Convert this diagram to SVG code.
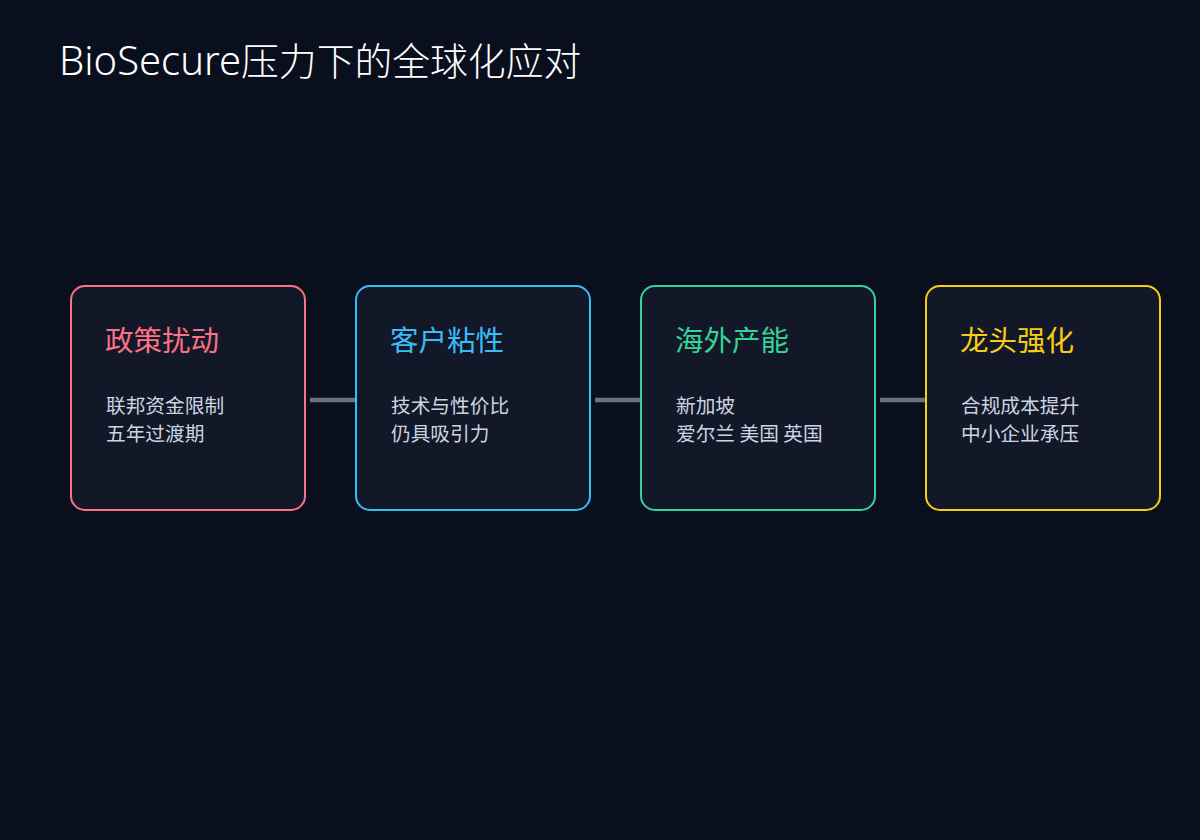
<svg xmlns="http://www.w3.org/2000/svg" width="1200" height="840" viewBox="0 0 1200 840">
<style>
.bg{fill:#0a0f1e}
.card{fill:#121827;stroke-width:2}
.title{font-family:"Noto Sans","Noto Sans CJK SC",sans-serif;fill:#ffffff;font-weight:300}
.h{font-family:"Noto Sans CJK SC",sans-serif;font-size:28.5px;font-weight:400}
.b{font-family:"Noto Sans CJK SC",sans-serif;font-size:19.7px;fill:#cbd5e1}
.conn{stroke:#64748b;stroke-width:4.5;fill:none}
</style>
<rect class="bg" x="0" y="0" width="1200" height="840"/>
<text class="title" x="59" y="75"><tspan font-size="40">BioSecure</tspan><tspan font-size="37.8">压力下的全球化应对</tspan></text>
<g id="connectors">
<line class="conn" x1="310" y1="400" x2="356" y2="400"/>
<line class="conn" x1="595" y1="400" x2="641" y2="400"/>
<line class="conn" x1="880" y1="400" x2="926" y2="400"/>
</g>
<g id="node1">
<rect class="card" x="71" y="286" width="234" height="224" rx="14" stroke="#fb7185"/>
<text class="h" x="105" y="351" fill="#fb7185">政策扰动</text>
<text class="b" x="106" y="413">联邦资金限制</text>
<text class="b" x="106" y="441">五年过渡期</text>
</g>
<g id="node2">
<rect class="card" x="356" y="286" width="234" height="224" rx="14" stroke="#38bdf8"/>
<text class="h" x="390" y="351" fill="#38bdf8">客户粘性</text>
<text class="b" x="391" y="413">技术与性价比</text>
<text class="b" x="391" y="441">仍具吸引力</text>
</g>
<g id="node3">
<rect class="card" x="641" y="286" width="234" height="224" rx="14" stroke="#34d399"/>
<text class="h" x="675" y="351" fill="#34d399">海外产能</text>
<text class="b" x="676" y="413">新加坡</text>
<text class="b" x="676" y="441">爱尔兰 美国 英国</text>
</g>
<g id="node4">
<rect class="card" x="926" y="286" width="234" height="224" rx="14" stroke="#facc15"/>
<text class="h" x="960" y="351" fill="#facc15">龙头强化</text>
<text class="b" x="961" y="413">合规成本提升</text>
<text class="b" x="961" y="441">中小企业承压</text>
</g>
</svg>
